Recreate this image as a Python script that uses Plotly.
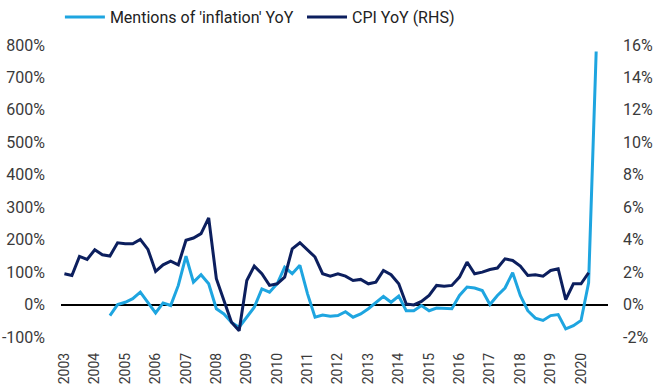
import plotly.graph_objects as go
import pandas as pd

# Quarterly observations, 2003 Q1 .. 2020 Q3
quarters = pd.date_range("2003-01-01", periods=71, freq="QS")

# CPI YoY (%), 2003 Q1 .. 2020 Q2  (right axis)
cpi_yoy = [1.90, 1.79, 2.97, 2.78, 3.38, 3.07, 2.99, 3.81, 3.75, 3.75,
           4.02, 3.40, 2.04, 2.45, 2.68, 2.45, 3.96, 4.10, 4.37, 5.34,
           1.59, 0.30, -1.09, -1.61, 1.48, 2.37, 1.90, 1.18, 1.28, 1.69,
           3.44, 3.81, 3.38, 2.93, 1.90, 1.75, 1.90, 1.75, 1.48, 1.55,
           1.28, 1.38, 2.10, 1.84, 1.28, 0.04, -0.02, 0.19, 0.56, 1.18,
           1.13, 1.18, 1.69, 2.62, 1.90, 2.00, 2.16, 2.25, 2.82, 2.72,
           2.37, 1.79, 1.84, 1.75, 2.10, 2.21, 0.31, 1.28, 1.28, 1.96]

# Mentions of "inflation" YoY (%), 2004 Q3 .. 2020 Q3  (left axis)
mentions_yoy = [-34, 0, 7, 18, 38, 7, -26, 5, -3, 59,
                149, 69, 92, 64, -13, -29, -55, -70, -39, -8,
                48, 38, 64, 115, 95, 121, 33, -39, -32, -36,
                -34, -22, -39, -29, -13, 5, 25, 7, 26, -19,
                -19, -3, -19, -11, -11, -13, 28, 54, 51, 43,
                0, 28, 51, 98, 28, -19, -42, -49, -34, -31,
                -75, -65, -49, 67, 780]

year_labels = [str(y) for y in range(2003, 2021)]
year_ticks = [f"{y}-01-01" for y in range(2003, 2021)]
left_ticks = list(range(-100, 801, 100))
right_ticks = list(range(-2, 17, 2))

LIGHT = "#1ea5e0"
NAVY = "#0c1f5e"
FONT = "Roboto"
TXT = "#3a3a3a"

fig = go.Figure()
fig.add_trace(go.Scatter(
    x=quarters[6:6 + len(mentions_yoy)], y=mentions_yoy,
    name="Mentions of 'inflation' YoY", mode="lines",
    line=dict(color=LIGHT, width=3), yaxis="y", legend="legend"))
fig.add_trace(go.Scatter(
    x=quarters[:len(cpi_yoy)], y=cpi_yoy,
    name="CPI YoY (RHS)", mode="lines",
    line=dict(color=NAVY, width=3), yaxis="y2", legend="legend2"))

legend_common = dict(orientation="h", xref="paper", yref="paper",
                     y=1.0, xanchor="left", yanchor="top",
                     bgcolor="rgba(0,0,0,0)",
                     font=dict(size=16, color="#222"), itemwidth=40)

# paper spans y = 0..337 px; plot area occupies 45..337 px
fig.update_layout(
    width=665, height=390,
    margin=dict(l=61, r=57, t=0, b=53),
    paper_bgcolor="white", plot_bgcolor="white",
    font=dict(family=FONT, size=16, color=TXT),
    showlegend=True,
    legend=dict(x=-0.002, **legend_common),
    legend2=dict(x=0.4406, **legend_common),
    xaxis=dict(
        type="date", range=["2002-11-21", "2020-11-20"], automargin=False,
        tickmode="array", tickvals=year_ticks, ticktext=year_labels,
        tickangle=-90, showgrid=False, showline=False, zeroline=False,
        ticks="", ticklabelstandoff=12, tickfont=dict(size=14, color=TXT)),
    yaxis=dict(
        domain=[0, 292 / 337],
        range=[-100, 800], tickmode="array", tickvals=left_ticks,
        ticktext=[f"{v}%" for v in left_ticks], showgrid=False,
        showline=False, zeroline=True, zerolinecolor="black",
        zerolinewidth=1.6, ticks="", ticklabelstandoff=15, automargin=False),
    yaxis2=dict(
        range=[-2, 16], overlaying="y", side="right", tickmode="array",
        tickvals=right_ticks, ticktext=[f"{v}%" for v in right_ticks],
        showgrid=False, showline=False, zeroline=False, ticks="",
        ticklabelstandoff=14, automargin=False),
)

fig.write_html("out.html", config={"displayModeBar": False},
               post_script="document.body.style.margin='0';")
